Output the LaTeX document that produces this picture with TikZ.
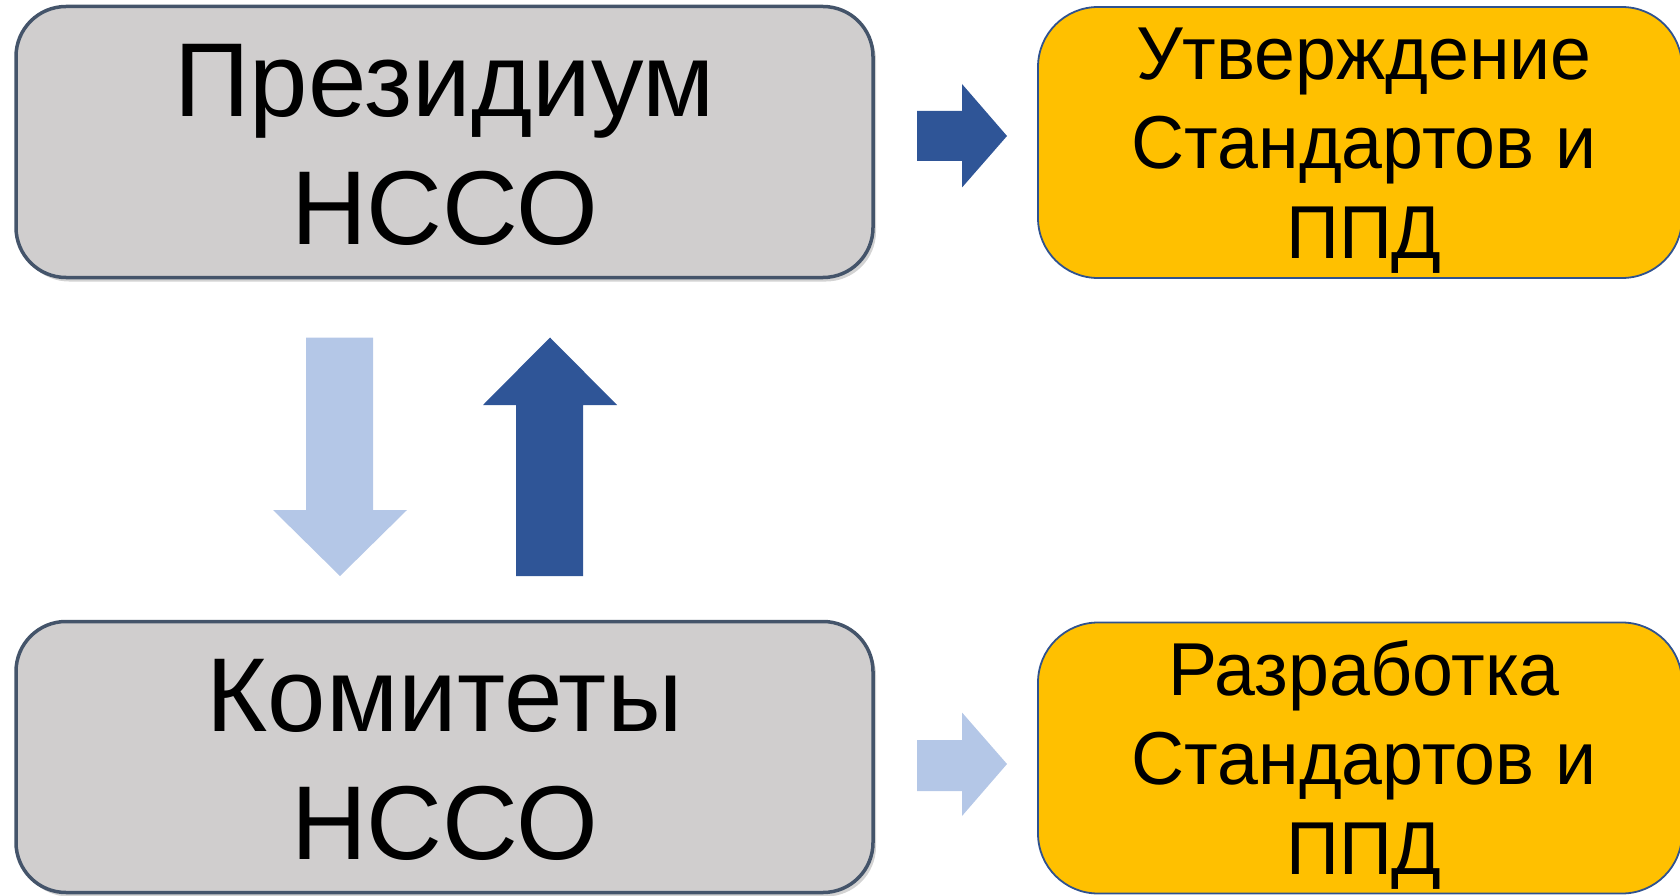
\documentclass[tikz,border=0pt]{standalone}
\usepackage{fontspec}
\setmainfont{Liberation Sans}
\usetikzlibrary{shadows}
\definecolor{greyfill}{HTML}{D0CECE}
\definecolor{greyline}{HTML}{44546A}
\definecolor{yellowfill}{HTML}{FFC000}
\definecolor{yellowline}{HTML}{2F528F}
\definecolor{darkarrow}{HTML}{2F5597}
\definecolor{lightarrow}{HTML}{B4C7E7}
\newcommand\narrowlines[1]{\scalebox{0.98}[1]{\begin{tabular}{@{}c@{}}#1\end{tabular}}}
\tikzset{
  greybox/.style={draw=greyline, line width=3.5pt, fill=greyfill, rounded corners=50pt,
    minimum width=857pt, minimum height=271pt, inner sep=0pt,
    drop shadow={opacity=0.35, shadow xshift=3pt, shadow yshift=-4pt}},
  greytext/.style={align=center, inner sep=0pt, font=\fontsize{105}{128}\selectfont},
  yellowbox/.style={draw=yellowline, line width=1.8pt, fill=yellowfill, rounded corners=60pt,
    minimum width=644pt, minimum height=271pt, inner sep=0pt},
  yellowtext/.style={inner sep=0pt, font=\fontsize{75}{89.5}\selectfont},
  darkfill/.style={fill=darkarrow, draw=none},
  lightfill/.style={fill=lightarrow, draw=none}
}
\begin{document}
\begin{tikzpicture}[x=1pt,y=-1pt]
\useasboundingbox (0,0) rectangle (1680,896);
\node[greybox] (pres) at (444.5,142) {};
\node[greybox] (kom) at (444.5,757) {};
\node[yellowbox] (utv) at (1360,142.5) {};
\node[yellowbox] (raz) at (1360,758) {};
\node[greytext] (presT) at (444.5,144.5) {Президиум\\НССО};
\node[greytext] (komT) at (444.5,760) {Комитеты\\НССО};
\node[yellowtext] (utvT) at (1364,151) {\narrowlines{Утверждение\\Стандартов и\\ППД}};
\node[yellowtext] (razT) at (1364,767) {\narrowlines{Разработка\\Стандартов и\\ППД}};
% block arrows
\fill[darkfill] (917,111) -- (962,111) -- (962,84) -- (1007,136) -- (962,187.5) -- (962,161) -- (917,161) -- cycle;
\fill[lightfill] (917,740) -- (962,740) -- (962,712.5) -- (1007,764) -- (962,816) -- (962,791) -- (917,791) -- cycle;
\fill[lightfill] (306,337.5) -- (373,337.5) -- (373,510) -- (407,510) -- (340,576) -- (273,510) -- (306,510) -- cycle;
\fill[darkfill] (516,576) -- (583,576) -- (583,405) -- (617,405) -- (550,337.5) -- (483,405) -- (516,405) -- cycle;
\end{tikzpicture}
\end{document}
